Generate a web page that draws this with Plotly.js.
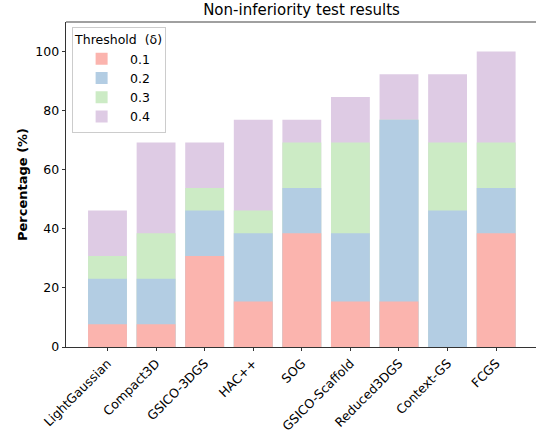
<!DOCTYPE html>
<html>
<head>
<meta charset="utf-8">
<script src="https://cdn.plot.ly/plotly-3.0.1.min.js"></script>
<style>html,body{margin:0;padding:0;background:#fff;}#chart{width:536px;height:434px;}</style>
</head>
<body>
<div id="chart"></div>
<script>
const methods = ["LightGaussian","Compact3D","GSICO-3DGS","HAC++","SOG","GSICO-Scaffold","Reduced3DGS","Context-GS","FCGS"];
const thresholds = ["0.1","0.2","0.3","0.4"];
const pct_01 = [7.7, 7.7, 30.8, 15.4, 38.5, 15.4, 15.4, 0, 38.5];
const pct_02 = [23.1, 23.1, 46.2, 38.5, 53.8, 38.5, 76.9, 46.2, 53.8];
const pct_03 = [30.8, 38.5, 53.8, 46.2, 69.2, 69.2, 76.9, 69.2, 69.2];
const pct_04 = [46.2, 69.2, 69.2, 76.9, 76.9, 84.6, 92.3, 92.3, 100];
const colors = ["#fbb4ae","#b3cde3","#ccebc5","#decbe4"];
const series = [pct_01, pct_02, pct_03, pct_04];

const traces = [];
for (let i = 3; i >= 0; i--) {
  traces.push({
    type: "bar",
    name: thresholds[i],
    x: methods,
    y: series[i],
    width: 0.8,
    marker: {color: colors[i], line: {width: 0}},
    hoverinfo: "x+y+name"
  });
}

const layout = {
  width: 536, height: 434,
  margin: {l: 66, r: 0, t: 22, b: 87},
  paper_bgcolor: "#fff", plot_bgcolor: "#fff",
  font: {family: "DejaVu Sans", size: 12, color: "#000"},
  barmode: "overlay",
  title: {text: "Non-inferiority test results", x: 0.5625, xanchor: "center", y: 0.977, yanchor: "middle", font: {size: 15, family: "DejaVu Sans", color: "#000"}},
  xaxis: {
    type: "category",
    range: [-0.854, 8.82],
    tickangle: -45,
    automargin: false,
    ticks: "outside", ticklen: 3.5, tickwidth: 0.8, tickcolor: "#000",
    showline: true, linecolor: "#000", linewidth: 0.8,
    showgrid: false, zeroline: false,
    tickfont: {size: 12.5}
  },
  yaxis: {
    range: [0, 110],
    tickvals: [0,20,40,60,80,100],
    automargin: false,
    ticks: "outside", ticklen: 3.5, tickwidth: 0.8, tickcolor: "#000",
    showline: true, linecolor: "#000", linewidth: 0.8,
    showgrid: false, zeroline: false,
    title: {text: "<b>Percentage (%)</b>", font: {size: 13}, standoff: 4},
    tickfont: {size: 12.5}
  },
  legend: {
    traceorder: "reversed",
    x: 0.013, y: 0.985, xanchor: "left", yanchor: "top",
    bgcolor: "rgba(255,255,255,0.8)", bordercolor: "#cccccc", borderwidth: 1,
    title: {text: "Threshold\u00a0\u00a0(δ)", side: "top", font: {size: 12.5}},
    font: {size: 12.5},
    itemwidth: 47,
    tracegroupgap: 0
  },
  shapes: [{type: "line", xref: "paper", yref: "paper", x0: 0, x1: 1, y0: 1, y1: 1, line: {color: "#808080", width: 1.5}}],
  showlegend: true
};

Plotly.newPlot("chart", traces, layout, {displayModeBar: false, staticPlot: true});
</script>
</body>
</html>
